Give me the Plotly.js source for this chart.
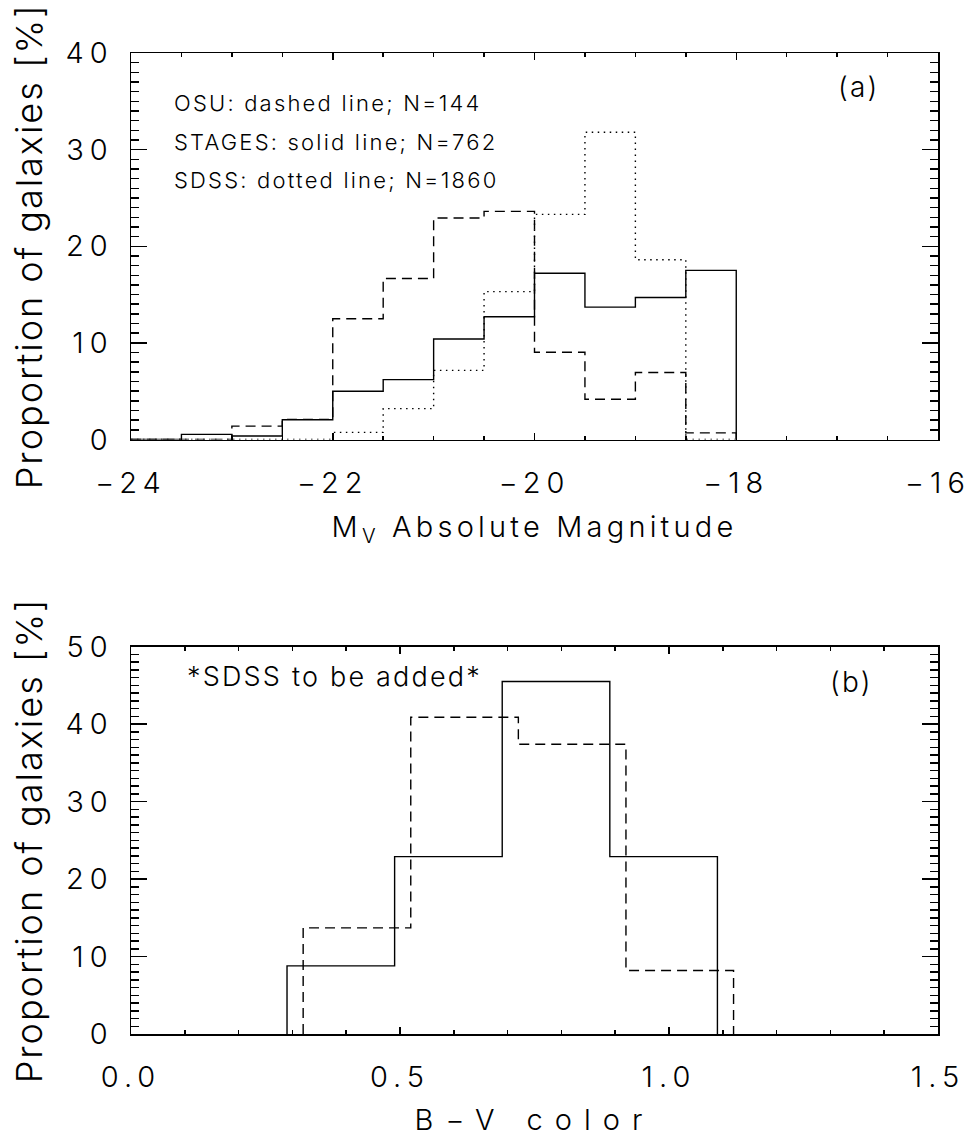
<!DOCTYPE html>
<html>
<head>
<meta charset="utf-8">
<script src="https://cdn.plot.ly/plotly-3.0.1.min.js"></script>
<style>
  html, body { margin: 0; padding: 0; background: #fff; }
  #chart { width: 978px; height: 1137px; }
  .xtick text, .x2tick text, .ytick text, .y2tick text { letter-spacing: 6px; }
  .g-xtitle text { letter-spacing: 4.2px; }
  .g-ytitle text, .g-y2title text { letter-spacing: 2px; }
  .g-x2title text { letter-spacing: 12px; }
  .annotation-text { letter-spacing: 2.2px; }
</style>
</head>
<body>
<div id="chart"></div>
<script>
// ---- Panel (a): M_V absolute magnitude histograms (percent) ----
const magEdges = [-24, -23.5, -23, -22.5, -22, -21.5, -21, -20.5, -20, -19.5, -19, -18.5, -18];
const osuMag    = [0, 0, 1.39, 2.08, 12.5, 16.67, 22.92, 23.61, 9.03, 4.17, 6.94, 0.69];
const stagesMag = [0, 0.53, 0.36, 2.05, 5.0, 6.2, 10.4, 12.7, 17.2, 13.7, 14.7, 17.5];
const sdssMag   = [0, 0, 0, 0, 0.74, 3.2, 7.15, 15.3, 23.3, 31.8, 18.6, 0];

// ---- Panel (b): B-V colour histograms (percent) ----
const stagesColEdges = [0.29, 0.49, 0.69, 0.89, 1.09];
const stagesCol      = [8.8, 22.9, 45.5, 22.9];
const osuColEdges    = [0.32, 0.52, 0.72, 0.92, 1.12];
const osuCol         = [13.7, 40.9, 37.4, 8.2];

const legendLines = ["OSU: dashed line; N=144", "STAGES: solid line; N=762", "SDSS: dotted line; N=1860"];

function stepXY(edges, vals) {
  const x = [edges[0]], y = [0];
  for (let i = 0; i < vals.length; i++) { x.push(edges[i]); y.push(vals[i]); }
  x.push(edges[edges.length - 1]); y.push(0);
  return {x, y};
}

const FONT = "Inter, DejaVu Sans, sans-serif";
const W = 300;
const dashStyle = "10px,6px";
const dotStyle = "1.5px,4.5px";

function trace(edges, vals, dash, xa, ya, name) {
  const s = stepXY(edges, vals);
  return {x: s.x, y: s.y, mode: "lines", line: {shape: "hv", color: "#000", width: 1.4, dash: dash},
          xaxis: xa, yaxis: ya, name: name, showlegend: false, hoverinfo: "skip"};
}

const data = [
  trace(magEdges, sdssMag, dotStyle, "x", "y", "SDSS"),
  trace(magEdges, osuMag, dashStyle, "x", "y", "OSU"),
  trace(magEdges, stagesMag, "solid", "x", "y", "STAGES"),
  trace(osuColEdges, osuCol, dashStyle, "x2", "y2", "OSU"),
  trace(stagesColEdges, stagesCol, "solid", "x2", "y2", "STAGES")
];

const tickFont = {family: FONT, size: 29, color: "#000", weight: W};
const titleFont = {family: FONT, size: 29, color: "#000", weight: W};
const yTitleFont = {family: FONT, size: 36, color: "#000", weight: W};

function xAxis(range, dtick, minor, ya, title, fmt) {
  return {
    anchor: ya, domain: [0, 1], range: range, tick0: range[0], dtick: dtick,
    tickformat: fmt, ticks: "inside", ticklen: 7, tickwidth: 1.5, tickcolor: "#000",
    mirror: "allticks", showline: true, linewidth: 1.5, linecolor: "#000",
    showgrid: false, zeroline: false, tickfont: tickFont, ticklabelstandoff: 17,
    minor: {dtick: minor, tick0: range[0], ticks: "inside", ticklen: 4, tickwidth: 1.5, tickcolor: "#000", showgrid: false},
    title: {text: title, font: titleFont, standoff: 18}
  };
}
function yAxis(domain, range, xa) {
  return {
    anchor: xa, domain: domain, range: range, tick0: 0, dtick: 10,
    ticks: "inside", ticklen: 16, tickwidth: 1.5, tickcolor: "#000",
    mirror: "allticks", showline: true, linewidth: 1.5, linecolor: "#000",
    showgrid: false, zeroline: false, tickfont: tickFont, ticklabelstandoff: 10,
    minor: {dtick: 1, tick0: 0, ticks: "inside", ticklen: 8, tickwidth: 1.5, tickcolor: "#000", showgrid: false},
    title: {text: "Proportion of galaxies [%]", font: yTitleFont, standoff: 12}
  };
}

const annFont = {family: FONT, size: 22, color: "#000", weight: W};
const annotations = [];
legendLines.forEach((t, i) => annotations.push({
  xref: "x domain", yref: "y domain", x: 0.051, y: 0.871 - 0.1 * i, xanchor: "left", yanchor: "middle",
  text: t, showarrow: false, font: annFont
}));
annotations.push({xref: "x domain", yref: "y domain", x: 0.902, y: 0.913, xanchor: "center", yanchor: "middle",
  text: "(a)", showarrow: false, font: {family: FONT, size: 28, color: "#000", weight: W}});
annotations.push({xref: "x2 domain", yref: "y2 domain", x: 0.893, y: 0.91, xanchor: "center", yanchor: "middle",
  text: "(b)", showarrow: false, font: {family: FONT, size: 28, color: "#000", weight: W}});
annotations.push({xref: "x2 domain", yref: "y2 domain", x: 0.067, y: 0.923, xanchor: "left", yanchor: "middle",
  text: "*SDSS to be added*", showarrow: false, font: {family: FONT, size: 27, color: "#000", weight: W}});

const layout = {
  width: 978, height: 1137,
  margin: {l: 131, r: 40, t: 53, b: 103},
  paper_bgcolor: "#fff", plot_bgcolor: "#fff",
  showlegend: false,
  xaxis: xAxis([-24, -16], 2, 0.5, "y", "M<sub>V</sub> Absolute Magnitude", "d"),
  yaxis: yAxis([0.606, 1], [0, 40], "x"),
  xaxis2: xAxis([0, 1.5], 0.5, 0.1, "y2", "B\u2212V color", ".1f"),
  yaxis2: yAxis([0, 0.3948], [0, 50], "x2"),
  annotations: annotations
};

Plotly.newPlot("chart", data, layout, {displayModeBar: false, staticPlot: true});
</script>
</body>
</html>
